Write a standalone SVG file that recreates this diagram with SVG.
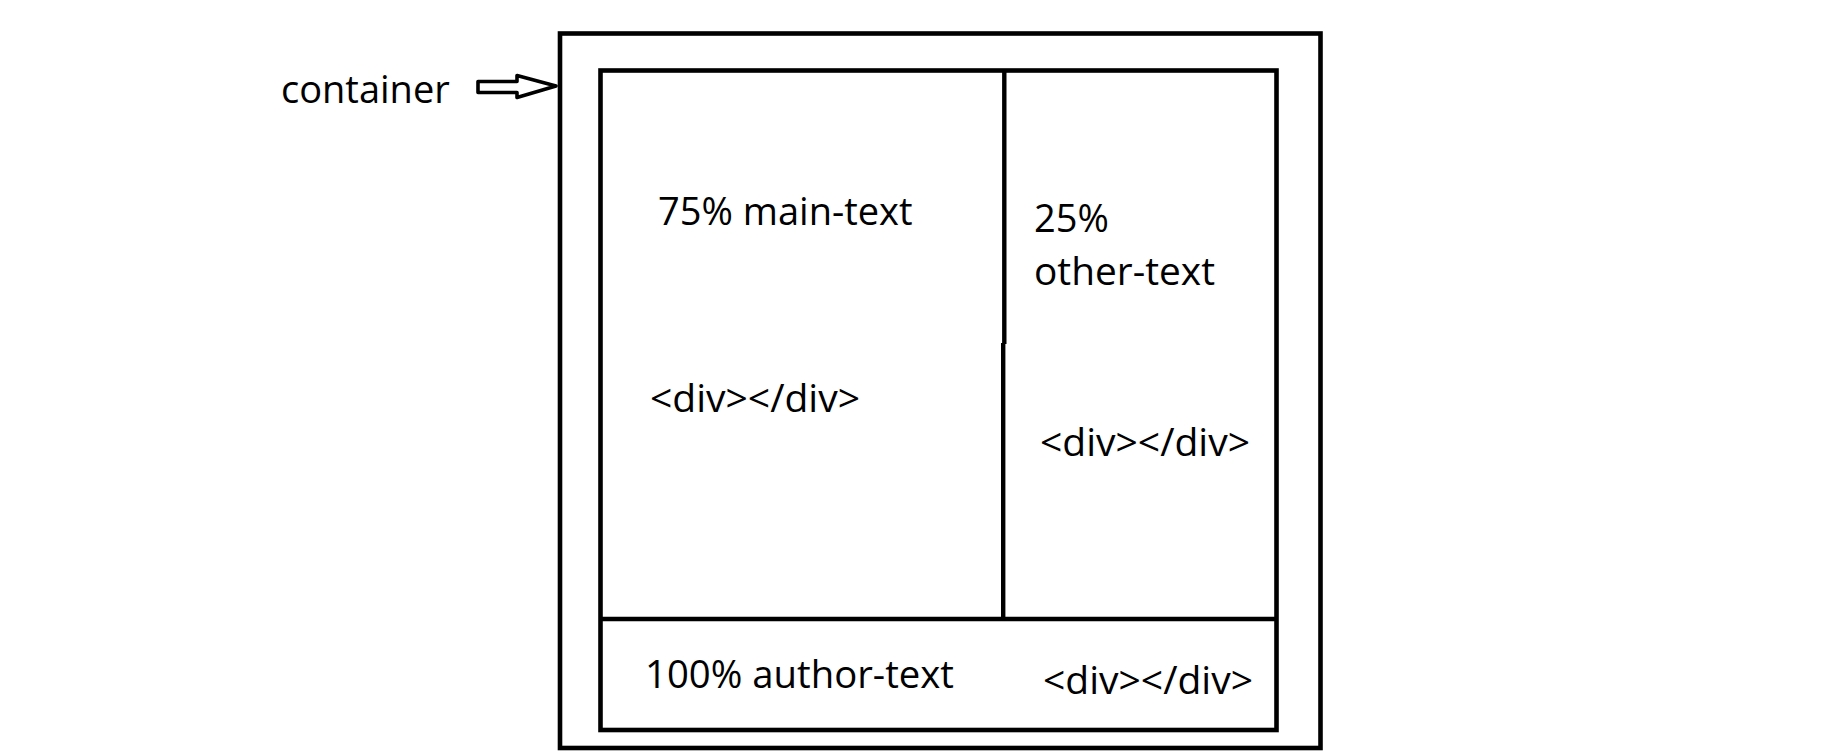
<svg xmlns="http://www.w3.org/2000/svg" width="1823" height="752" viewBox="0 0 1823 752">
<style>
.box{fill:none;stroke:#000;stroke-width:4.6}
.ln{fill:none;stroke:#000;stroke-width:4.4}
.t{font-family:"Open Sans","Noto Sans",sans-serif;font-size:38px;fill:#000}
</style>
<rect width="1823" height="752" fill="#fff"/>
<g id="container">
<rect class="box" x="560" y="33.5" width="760.5" height="714.5"/>
<text class="t" x="281" y="103">container</text>
</g>
<g id="inner">
<rect class="box" x="600.5" y="70.5" width="676" height="659.5"/>
</g>
<g id="main-text">
<text class="t" x="658" y="225">75% main-text</text>
<text class="t" x="650" y="411.5" textLength="210" lengthAdjust="spacingAndGlyphs">&lt;div&gt;&lt;/div&gt;</text>
</g>
<g id="other-text">
<text class="t" x="1034" y="231.5">25%</text>
<text class="t" x="1034" y="285" textLength="181" lengthAdjust="spacingAndGlyphs">other-text</text>
<text class="t" x="1040" y="455.5" textLength="210" lengthAdjust="spacingAndGlyphs">&lt;div&gt;&lt;/div&gt;</text>
</g>
<g id="author-text">
<text class="t" x="645" y="688" textLength="309" lengthAdjust="spacingAndGlyphs">100% author-text</text>
<text class="t" x="1043" y="694" textLength="210" lengthAdjust="spacingAndGlyphs">&lt;div&gt;&lt;/div&gt;</text>
</g>
<g id="connectors">
<line class="ln" x1="1004.3" y1="70" x2="1004.3" y2="344"/>
<line class="ln" x1="1003.2" y1="343" x2="1003.2" y2="619"/>
<line class="ln" x1="600.5" y1="619" x2="1276.5" y2="619"/>
<polygon points="478,81.5 517,81.5 517,75.5 556,86 517,97.5 517,92.5 478,92.5" fill="#fff" stroke="#000" stroke-width="3.6" stroke-linejoin="round"/>
</g>
</svg>
